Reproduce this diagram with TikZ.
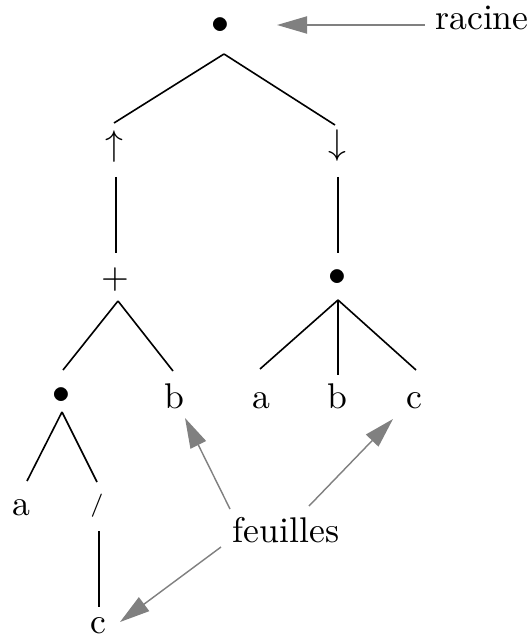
\documentclass[tikz,border=0pt]{standalone}
\usetikzlibrary{calc,arrows.meta}
\definecolor{arrgray}{HTML}{808080}
\begin{document}
\begin{tikzpicture}[x=0.28pt,y=-0.28pt,
  tn/.style={inner sep=0pt,font=\fontsize{10}{12}\selectfont},
  edge/.style={draw=black,line width=0.45pt},
  garrow/.style={draw=arrgray,line width=0.4pt,-{Triangle[length=8.4pt,width=4.8pt]},arrgray}]
\useasboundingbox (0,0) rectangle (528,639);
% nodes
\node[tn] (root) at (220,26) {$\bullet$};
\node[tn,anchor=base] (racine) at (482,30) {racine};
\node[tn] (up) at (114,147) {$\uparrow$};
\node[tn] (down) at (337,146) {$\downarrow$};
\node[tn] (plus) at (115,280) {$+$};
\node[tn] (d2) at (337,278) {$\bullet$};
\node[tn] (d3) at (61,396) {$\bullet$};
\node[tn,anchor=base] (b1) at (174,408) {b};
\node[tn,anchor=base] (a2) at (261,408) {a};
\node[tn,anchor=base] (b2) at (337,408) {b};
\node[tn,anchor=base] (c2) at (414,408) {c};
\node[tn,anchor=base] (a3) at (21,515) {a};
\node[tn] (sl) at (97,506) {\fontsize{6.5}{7}\selectfont /};
\node[tn,anchor=base] (c3) at (98,633) {c};
\node[tn] (feuilles) at (286,530) {feuilles};
% tree edges
\draw[edge] ($(root)+(4,28)$) -- ($(up)+(0,-24)$);
\draw[edge] ($(root)+(4,28)$) -- ($(down)+(-2,-21)$);
\draw[edge] ($(up)+(2,30)$) -- ($(plus)+(1,-27)$);
\draw[edge] ($(down)+(1,31)$) -- ($(d2)+(1,-25)$);
\draw[edge] ($(plus)+(3,21)$) -- ($(d3)+(2,-26)$);
\draw[edge] ($(plus)+(3,21)$) -- ($(b1.base)+(-1,-37)$);
\draw[edge] ($(d2)+(1,22)$) -- ($(a2.base)+(-1,-39)$);
\draw[edge] ($(d2)+(1,22)$) -- ($(b2.base)+(1,-33)$);
\draw[edge] ($(d2)+(1,22)$) -- ($(c2.base)+(2,-38)$);
\draw[edge] ($(d3)+(1,16)$) -- ($(a3.base)+(6,-34)$);
\draw[edge] ($(d3)+(1,16)$) -- ($(sl)+(0,-24)$);
\draw[edge] ($(sl)+(2,25)$) -- ($(c3.base)+(1,-26)$);
% labels arrows
\draw[garrow] ($(racine.base west)+(-10,-5)$) -- ($(root)+(57,-1)$);
\draw[garrow] ($(feuilles)+(-56,-21)$) -- ($(b1.base)+(11,10)$);
\draw[garrow] ($(feuilles)+(23,-24)$) -- ($(c2.base)+(-21,11)$);
\draw[garrow] ($(feuilles)+(-65,17)$) -- ($(c3.base)+(22,-11)$);
\end{tikzpicture}
\end{document}
